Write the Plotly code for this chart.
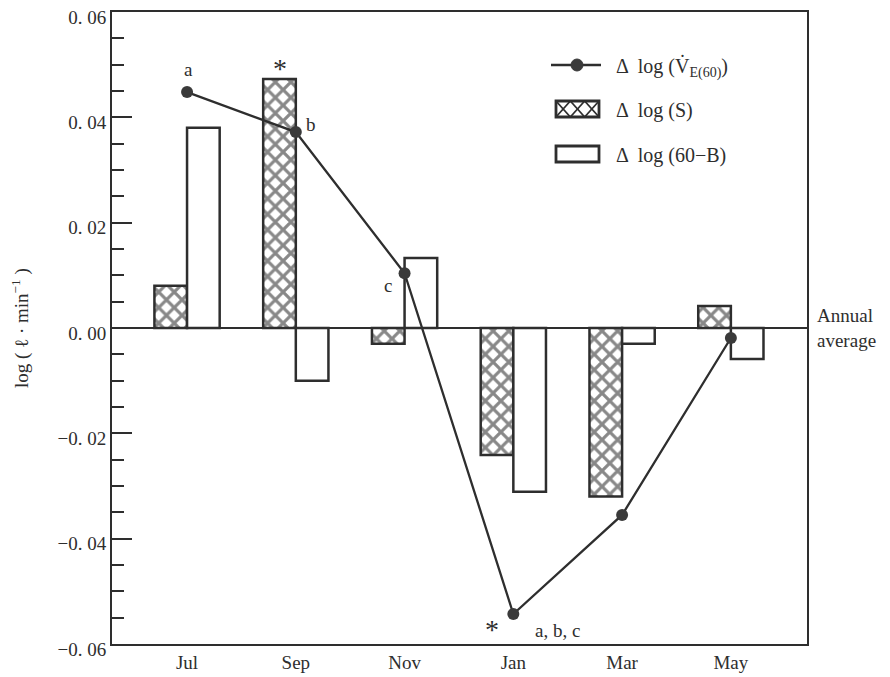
import plotly.graph_objects as go

months = ["Jul", "Sep", "Nov", "Jan", "Mar", "May"]
ve60 = [0.0448, 0.0372, 0.0104, -0.0543, -0.0355, -0.0019]
s_vals = [0.0080, 0.0473, -0.0030, -0.0241, -0.0320, 0.0042]
b_vals = [0.0380, -0.0100, 0.0133, -0.0311, -0.0030, -0.0059]
y_ticks = [-0.06, -0.04, -0.02, 0.0, 0.02, 0.04, 0.06]
y_tick_text = ["−0. 06", "−0. 04", "−0. 02", "0. 00", "0. 02", "0. 04", "0. 06"]

INK = "#2e2e2e"
FONT = "Liberation Serif"

fig = go.Figure()
fig.add_trace(go.Bar(
    x=months, y=s_vals, name="Δ log (S)",
    marker=dict(color="white", line=dict(color=INK, width=2.5),
                pattern=dict(shape="x", fgcolor="#111111", bgcolor="white", size=11, solidity=0.5)),
))
fig.add_trace(go.Bar(
    x=months, y=b_vals, name="Δ log (60−B)",
    marker=dict(color="white", line=dict(color=INK, width=2.5)),
))
fig.add_trace(go.Scatter(
    x=months, y=ve60, mode="lines+markers", name="Δ log (V̇E(60))",
    line=dict(color=INK, width=2.3),
    marker=dict(color="#3a3a3a", size=12),
))

# page body has an 8px margin, so the figure is offset by 8px
OFF = 8
W, H = 890 - OFF, 677 - OFF
L, R, T, B = 112 - OFF, 890 - 807, 12 - OFF, 677 - 644
pw, ph = W - L - R, H - T - B

def px(x):
    return (x - OFF - L) / pw

def py(y):
    return (H - B - (y - OFF)) / ph

shapes = []
# legend: line with marker
shapes.append(dict(type="line", xref="paper", yref="paper", x0=px(551), x1=px(601), y0=py(65), y1=py(65),
                   line=dict(color=INK, width=2.3)))
shapes.append(dict(type="circle", xref="paper", yref="paper", x0=px(571), x1=px(583), y0=py(59), y1=py(71),
                   fillcolor="#3a3a3a", line=dict(color="#3a3a3a", width=1)))
# hatched box
shapes.append(dict(type="rect", xref="paper", yref="paper", x0=px(556), x1=px(599), y0=py(101), y1=py(117),
                   fillcolor="white", line=dict(color=INK, width=2.8)))
for k in range(3):
    x0 = 556 + k * 14.33
    x1 = x0 + 14.33
    shapes.append(dict(type="line", xref="paper", yref="paper", x0=px(x0), x1=px(x1), y0=py(101), y1=py(117),
                       line=dict(color=INK, width=1.8)))
    shapes.append(dict(type="line", xref="paper", yref="paper", x0=px(x0), x1=px(x1), y0=py(117), y1=py(101),
                       line=dict(color=INK, width=1.8)))
# empty box
shapes.append(dict(type="rect", xref="paper", yref="paper", x0=px(556), x1=px(599), y0=py(146), y1=py(162),
                   fillcolor="white", line=dict(color=INK, width=2.8)))

annos = []
def lg(text, y):
    annos.append(dict(xref="paper", yref="paper", x=px(614), y=py(y), text=text, showarrow=False,
                      xanchor="left", yanchor="middle", font=dict(family=FONT, size=20, color=INK)))
lg("Δ  log (V̇<sub>E(60)</sub>)", 67)
lg("Δ  log (S)", 110)
lg("Δ  log (60−B)", 155)

def note(x, y, text, xs, ys, size=19):
    annos.append(dict(x=x, y=y, text=text, showarrow=False, xshift=xs, yshift=ys,
                      font=dict(family=FONT, size=size, color=INK)))

note("Jul", ve60[0], "a", 1, 23)
note("Sep", s_vals[1], "*", -16, 10, size=28)
note("Sep", ve60[1], "b", 15, 8)
note("Nov", ve60[2], "c", -17, -12)
note("Jan", ve60[3], "*", -21, -16, size=28)
note("Jan", ve60[3], "a, b, c", 44, -17)

annos.append(dict(xref="paper", yref="y", x=1.0, y=0, xshift=8, text="Annual<br>average", showarrow=False,
                  xanchor="left", yanchor="middle", align="left",
                  font=dict(family=FONT, size=19, color=INK)))
# y-axis title
annos.append(dict(xref="paper", yref="y", x=0, y=0.0, xshift=-(L - (20 - OFF)), text="log ( ℓ · min<sup>−1</sup> )",
                  textangle=-90, showarrow=False, xanchor="center", yanchor="middle",
                  font=dict(family=FONT, size=19, color=INK)))

fig.update_layout(
    width=W, height=H,
    margin=dict(l=L, r=R, t=T, b=B, autoexpand=False),
    paper_bgcolor="white", plot_bgcolor="white",
    barmode="group", bargap=0.4, bargroupgap=0,
    showlegend=False,
    shapes=shapes, annotations=annos,
    font=dict(family=FONT, color=INK, size=19),
)
fig.update_xaxes(
    type="category", range=[-0.69, 5.70], automargin=False,
    showline=True, linecolor=INK, linewidth=2, mirror=True,
    ticks="", showgrid=False, zeroline=False,
    tickfont=dict(family=FONT, size=19, color=INK),
)
fig.update_yaxes(
    range=[-0.06, 0.06], automargin=False,
    tickvals=y_ticks, ticktext=y_tick_text,
    ticklabeloverflow="allow", ticklabelshift=5,
    showline=True, linecolor=INK, linewidth=2, mirror=True,
    ticks="inside", ticklen=20, tickwidth=2, tickcolor=INK,
    minor=dict(dtick=0.005, ticks="inside", ticklen=12, tickwidth=2, tickcolor=INK),
    showgrid=False,
    zeroline=True, zerolinecolor=INK, zerolinewidth=2,
    tickfont=dict(family=FONT, size=19, color=INK),
)

fig.write_html("out.html")
